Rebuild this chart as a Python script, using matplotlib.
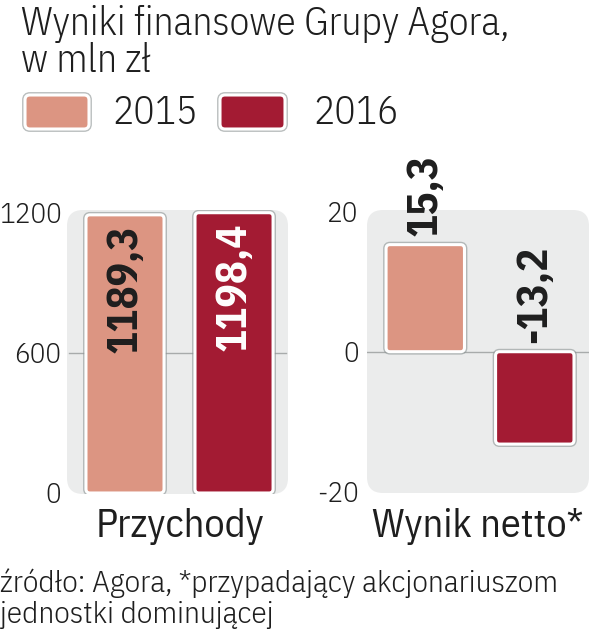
import matplotlib
matplotlib.use("Agg")
import matplotlib.pyplot as plt
from matplotlib.patches import FancyBboxPatch

# data
years = ["2015", "2016"]
colors = ["#dc9582", "#a31b33"]
przychody = [1189.3, 1198.4]
wynik = [15.3, -13.2]
przychody_labels = ["1189,3", "1198,4"]
wynik_labels = ["15,3", "-13,2"]
left_ticks = [0, 600, 1200]
right_ticks = [-20, 0, 20]

FONT = ["IBM Plex Sans Condensed", "Liberation Sans Narrow", "DejaVu Sans"]
TXT = "#1e1e1e"
PANEL = "#ebecec"

W, H = 589, 630
fig = plt.figure(figsize=(W / 100, H / 100), dpi=100)


def px_axes(x0, y0, x1, y1):
    # pixel box (top-left origin) -> axes
    return fig.add_axes([x0 / W, 1 - y1 / H, (x1 - x0) / W, (y1 - y0) / H])


def rounded_bars(ax, bars, radius=4):
    bb = ax.get_window_extent()
    x0, x1 = ax.get_xlim()
    y0, y1 = ax.get_ylim()
    ppx = bb.width / (x1 - x0)
    ppy = bb.height / (y1 - y0)
    asp = ppx / ppy
    for b in bars:
        x, y = b.get_x(), b.get_y()
        w, h = b.get_width(), b.get_height()
        if h < 0:
            y, h = y + h, -h
        fc = b.get_facecolor()
        b.remove()
        for ec, lw, z, a in [("#8c9494", 4.2, 2, 0.6), ("white", 2.2, 3, 1)]:
            p = FancyBboxPatch((x, y), w, h,
                               boxstyle="round,pad=0,rounding_size=%f" % (radius / ppx),
                               mutation_aspect=asp, facecolor=fc, edgecolor=ec,
                               linewidth=lw, zorder=z, alpha=a)
            ax.add_patch(p)


def panel(ax, radius=16):
    bb = ax.get_window_extent()
    asp = bb.width / bb.height
    p = FancyBboxPatch((0, 0), 1, 1, transform=ax.transAxes,
                       boxstyle="round,pad=0,rounding_size=%f" % (radius / bb.width),
                       mutation_aspect=asp, facecolor=PANEL, edgecolor="none",
                       zorder=0, clip_on=False)
    ax.add_patch(p)


def style(ax, ticks, pad):
    ax.set_facecolor("none")
    for s in ax.spines.values():
        s.set_visible(False)
    ax.set_xticks([])
    ax.set_yticks(ticks)
    ax.set_yticklabels([str(t) for t in ticks], family=FONT, fontweight=300,
                       fontsize=21, color=TXT)
    ax.tick_params(axis="y", length=0, pad=pad)


xpos = [0, 1]
bw = 0.716

# left panel: Przychody
ax1 = px_axes(67, 210, 288, 494)
ax1.set_xlim(-0.532, 1.495)
ax1.set_ylim(-4.3, 1210)
style(ax1, left_ticks, 4)
panel(ax1)
ax1.axhline(600, xmin=0.01, xmax=0.99, color="#a8abab", lw=1, zorder=1)
bars1 = ax1.bar(xpos, przychody, bw, color=colors)
rounded_bars(ax1, bars1)
for x, v, lab, tc in zip(xpos, przychody, przychody_labels, [TXT, "white"]):
    ax1.annotate(lab, (x, v), xytext=(0, -7), textcoords="offset points",
                 rotation=90, ha="center", va="top", family=FONT,
                 fontweight="bold", fontsize=31, color=tc, zorder=5)

# right panel: Wynik netto
ax2 = px_axes(367, 210, 589, 493)
ax2.set_xlim(-0.532, 1.495)
ax2.set_ylim(-20.19, 20.25)
style(ax2, right_ticks, 6)
panel(ax2)
ax2.axhline(0, color="#a8abab", lw=1, zorder=1)
bars2 = ax2.bar(xpos, wynik, bw, color=colors)
rounded_bars(ax2, bars2)
for x, v, lab in zip(xpos, wynik, wynik_labels):
    ax2.annotate(lab, (x, max(v, 0)), xytext=(0, 6), textcoords="offset points",
                 rotation=90, ha="center", va="bottom", family=FONT,
                 fontweight="bold", fontsize=31, color=TXT, zorder=5)


# titles and labels (pixel positions via figure coords)
def ftext(x, y, s, weight=300, **kw):
    fig.text(x / W, 1 - y / H, s, family=FONT, fontweight=weight, color=TXT, **kw)


ftext(21, 35, "Wyniki finansowe Grupy Agora,", fontsize=28.5, va="baseline")
ftext(21, 72, "w mln zł", fontsize=28.5, va="baseline")

# legend swatches
lg = fig.add_axes([0, 0, 1, 1], facecolor="none")
lg.set_xlim(0, W)
lg.set_ylim(H, 0)
lg.axis("off")
for (x0, x1), c, yr, tx in zip([(23, 91), (218, 287)], colors, years, [112, 313]):
    for ec, lw, z, a in [("#8c9494", 4.2, 1, 0.6), ("white", 2.2, 2, 1)]:
        lg.add_patch(FancyBboxPatch((x0 + 2, 95), x1 - x0 - 4, 34,
                                    boxstyle="round,pad=0,rounding_size=5",
                                    facecolor=c, edgecolor=ec, linewidth=lw,
                                    zorder=z, alpha=a))
    ftext(tx, 124, yr, fontsize=28.5, va="baseline")

ftext(180, 537, "Przychody", weight=400, fontsize=29, ha="center", va="baseline")
ftext(478, 537, "Wynik netto*", weight=400, fontsize=29, ha="center", va="baseline")

ftext(0, 592, "źródło: Agora, *przypadający akcjonariuszom", fontsize=22.5, va="baseline")
ftext(0, 623, "jednostki dominującej", fontsize=22.5, va="baseline")

fig.savefig("out.png", dpi=100)
